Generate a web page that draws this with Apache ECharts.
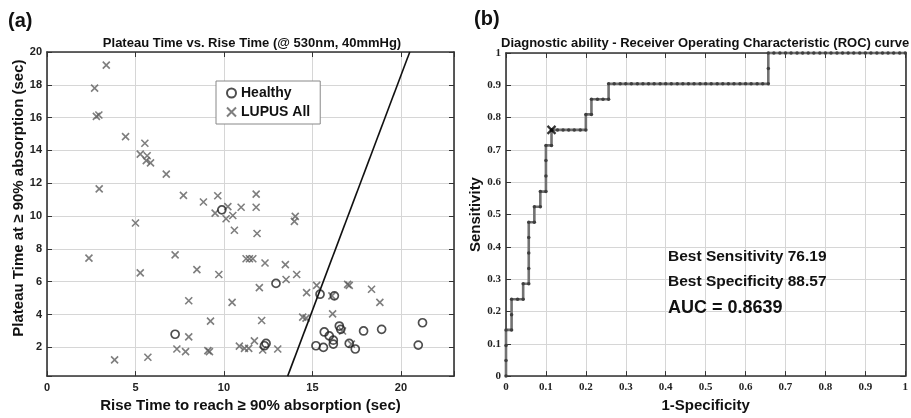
<!DOCTYPE html>
<html><head><meta charset="utf-8">
<script src="https://cdn.jsdelivr.net/npm/echarts@6/dist/echarts.min.js"></script>
<style>html,body{margin:0;padding:0;background:#fff}#c{width:911px;height:418px}</style>
</head><body><div id="c"></div>
<script>
// ---- Panel (a): scatter data ----
const healthyX = [9.88, 7.24, 12.94, 15.43, 16.24, 15.67, 15.95, 16.52, 16.60, 17.89, 18.91, 21.22, 16.18, 16.18, 15.20, 15.62, 17.08, 17.42, 20.98, 12.38, 12.29];
const healthyY = [10.38, 2.80, 5.90, 5.24, 5.14, 2.94, 2.70, 3.30, 3.10, 3.00, 3.10, 3.50, 2.44, 2.20, 2.10, 2.00, 2.24, 1.90, 2.14, 2.24, 2.10];
const lupusX = [3.35, 2.69, 2.79, 2.93, 4.44, 5.53, 5.27, 5.66, 5.61, 5.85, 6.74, 2.95, 7.71, 8.84, 9.65, 9.50, 10.22, 10.12, 10.50, 10.97,
  10.59, 5.00, 2.37, 7.24, 5.27, 8.47, 9.71, 8.01, 10.46, 9.24, 8.01, 7.34, 7.83, 9.09, 9.18, 3.82, 5.70, 10.87, 11.16, 11.40,
  11.82, 11.82, 11.87, 14.03, 13.98, 11.25, 11.44, 11.63, 12.32, 13.47, 14.11, 13.51, 12.00, 15.24, 14.67, 16.10, 16.99, 17.08, 18.34, 18.81,
  16.14, 14.45, 14.64, 12.13, 16.70, 17.20, 12.19, 11.72, 13.04];
const lupusY = [19.20, 17.80, 16.08, 16.16, 14.84, 14.44, 13.78, 13.68, 13.38, 13.24, 12.56, 11.66, 11.26, 10.86, 11.24, 10.18, 10.58, 9.84, 10.04, 10.54,
  9.14, 9.58, 7.44, 7.64, 6.54, 6.74, 6.44, 4.84, 4.74, 3.60, 2.64, 1.90, 1.74, 1.80, 1.74, 1.24, 1.40, 2.08, 1.94, 1.94,
  11.34, 10.54, 8.94, 9.98, 9.68, 7.40, 7.40, 7.40, 7.14, 7.04, 6.44, 6.14, 5.64, 5.78, 5.34, 5.14, 5.84, 5.78, 5.54, 4.74,
  4.04, 3.84, 3.78, 3.64, 3.00, 2.20, 1.84, 2.40, 1.90];
const thresholdX = [13.6, 20.5];
const thresholdY = [0.25, 20];
const xTicksA = [0, 5, 10, 15, 20];

// ---- Panel (b): ROC data ----
const rocCurve = [
  [0,0],[0,0.048],[0,0.095],[0,0.143],
  [0.014,0.143],[0.014,0.190],[0.014,0.238],
  [0.029,0.238],[0.043,0.238],[0.043,0.286],
  [0.057,0.286],[0.057,0.333],[0.057,0.381],[0.057,0.429],[0.057,0.476],
  [0.071,0.476],[0.071,0.524],
  [0.086,0.524],[0.086,0.571],
  [0.100,0.571],[0.100,0.619],[0.100,0.667],[0.100,0.714],
  [0.114,0.714],[0.114,0.762],
  [0.129,0.762],[0.143,0.762],[0.157,0.762],[0.171,0.762],[0.186,0.762],[0.200,0.762],[0.200,0.810],
  [0.214,0.810],[0.214,0.857],
  [0.229,0.857],[0.243,0.857],[0.257,0.857],[0.257,0.905],
  [0.271,0.905],[0.286,0.905],[0.300,0.905],[0.314,0.905],[0.329,0.905],[0.343,0.905],[0.357,0.905],[0.371,0.905],
  [0.386,0.905],[0.400,0.905],[0.414,0.905],[0.429,0.905],[0.443,0.905],[0.457,0.905],[0.471,0.905],[0.486,0.905],
  [0.500,0.905],[0.514,0.905],[0.529,0.905],[0.543,0.905],[0.557,0.905],[0.571,0.905],[0.586,0.905],[0.600,0.905],
  [0.614,0.905],[0.629,0.905],[0.643,0.905],[0.657,0.905],[0.657,0.952],[0.657,1],
  [0.671,1],[0.686,1],[0.700,1],[0.714,1],[0.729,1],[0.743,1],[0.757,1],[0.771,1],[0.786,1],[0.800,1],
  [0.814,1],[0.829,1],[0.843,1],[0.857,1],[0.871,1],[0.886,1],[0.900,1],[0.914,1],[0.929,1],[0.943,1],
  [0.957,1],[0.971,1],[0.986,1],[1,1]
];
const bestPoint = [0.114, 0.762];
const bestSensitivity = '76.19';
const bestSpecificity = '88.57';
const aucValue = '0.8639';

const SANS = '"Liberation Sans", Arial, sans-serif';
const SERIF = '"Liberation Serif", "Times New Roman", serif';
const CROSS = 'path://M0,0L10,10M10,0L0,10';
const zip = (a, b) => a.map((v, i) => [v, b[i]]);

const frame = { show: true, onZero: false, lineStyle: { color: '#333', width: 1.6 } };
const tickIn = { show: true, inside: true, length: 5, lineStyle: { color: '#333', width: 1 } };
const grid = { show: true, lineStyle: { color: '#d6d6d6', width: 1 } };
const nameStyle = { fontFamily: SANS, fontWeight: 'bold', fontSize: 15, color: '#111' };

const chart = echarts.init(document.getElementById('c'), null, { renderer: 'canvas' });
chart.setOption({
  animation: false,
  backgroundColor: '#fff',
  grid: [
    { left: 47, top: 52, width: 407, height: 330, show: false },
    { left: 506, top: 53, width: 402, height: 328, show: false }
  ],
  xAxis: [
    { gridIndex: 0, type: 'value', min: 0, max: 23, interval: 5, position: 'bottom',
      axisLine: frame, axisTick: tickIn, splitLine: grid,
      axisLabel: { margin: 6, color: '#222', fontFamily: SANS, fontWeight: 'bold', fontSize: 11,
        formatter: v => xTicksA.includes(v) ? String(v) : '' },
      name: 'Rise Time to reach \u2265 90% absorption (sec)', nameLocation: 'middle', nameGap: 20,
      nameTextStyle: nameStyle },
    { gridIndex: 0, type: 'value', min: 0, max: 23, interval: 5, position: 'top',
      axisLine: frame, axisTick: tickIn, splitLine: { show: false }, axisLabel: { show: false } },
    { gridIndex: 1, type: 'value', min: 0, max: 1, interval: 0.1, position: 'bottom',
      axisLine: frame, axisTick: tickIn, splitLine: grid,
      axisLabel: { margin: 6, color: '#222', fontFamily: SERIF, fontWeight: 'bold', fontSize: 11 },
      name: '1-Specificity', nameLocation: 'middle', nameGap: 21,
      nameTextStyle: nameStyle },
    { gridIndex: 1, type: 'value', min: 0, max: 1, interval: 0.1, position: 'top',
      axisLine: frame, axisTick: tickIn, splitLine: { show: false }, axisLabel: { show: false } }
  ],
  yAxis: [
    { gridIndex: 0, type: 'value', min: 0.25, max: 20, splitNumber: 10, position: 'left',
      axisLine: frame, axisTick: tickIn, splitLine: grid,
      axisLabel: { margin: 5, color: '#222', fontFamily: SANS, fontWeight: 'bold', fontSize: 11,
        formatter: v => (v >= 1 && v % 2 === 0) ? String(v) : '' },
      name: 'Plateau Time at \u2265 90% absorption (sec)', nameLocation: 'middle', nameGap: 20,
      nameTextStyle: Object.assign({}, nameStyle, { padding: [0, 0, 0, 32] }) },
    { gridIndex: 0, type: 'value', min: 0.25, max: 20, splitNumber: 10, position: 'right',
      axisLine: frame, axisTick: tickIn, splitLine: { show: false }, axisLabel: { show: false } },
    { gridIndex: 1, type: 'value', min: 0, max: 1, interval: 0.1, position: 'left',
      axisLine: frame, axisTick: tickIn, splitLine: grid,
      axisLabel: { margin: 5, color: '#222', fontFamily: SERIF, fontWeight: 'bold', fontSize: 11 },
      name: 'Sensitivity', nameLocation: 'middle', nameGap: 22,
      nameTextStyle: nameStyle },
    { gridIndex: 1, type: 'value', min: 0, max: 1, interval: 0.1, position: 'right',
      axisLine: frame, axisTick: tickIn, splitLine: { show: false }, axisLabel: { show: false } }
  ],
  legend: {
    data: ['Healthy', 'LUPUS All'], orient: 'vertical', left: 216, top: 81,
    padding: [5, 10, 5, 10], itemGap: 5, itemWidth: 9, itemHeight: 9,
    borderColor: '#888', borderWidth: 1, backgroundColor: '#fff',
    textStyle: { fontFamily: SANS, fontWeight: 'bold', fontSize: 14, color: '#111' }
  },
  graphic: [
    { type: 'text', z: 100, left: 8, top: 11, style: { text: '(a)', font: 'bold 20px ' + SANS, fill: '#111' } },
    { type: 'text', z: 100, left: 474, top: 9, style: { text: '(b)', font: 'bold 20px ' + SANS, fill: '#111' } },
    { type: 'text', z: 100, x: 252, y: 43, style: { text: 'Plateau Time vs. Rise Time (@ 530nm, 40mmHg)', font: 'bold 13px ' + SANS, fill: '#111', align: 'center', verticalAlign: 'middle' } },
    { type: 'text', z: 100, x: 501, y: 43, style: { text: 'Diagnostic ability - Receiver Operating Characteristic (ROC) curve', font: 'bold 13px ' + SANS, fill: '#111', align: 'left', verticalAlign: 'middle' } },
    { type: 'text', z: 100, x: 668, y: 257, style: { text: 'Best Sensitivity ' + bestSensitivity, font: 'bold 15.5px ' + SANS, fill: '#111', verticalAlign: 'middle' } },
    { type: 'text', z: 100, x: 668, y: 282, style: { text: 'Best Specificity ' + bestSpecificity, font: 'bold 15.5px ' + SANS, fill: '#111', verticalAlign: 'middle' } },
    { type: 'text', z: 100, x: 668, y: 308, style: { text: 'AUC = ' + aucValue, font: 'bold 18px ' + SANS, fill: '#111', verticalAlign: 'middle' } }
  ],
  series: [
    { name: 'LUPUS All', type: 'scatter', xAxisIndex: 0, yAxisIndex: 0, data: zip(lupusX, lupusY),
      symbol: CROSS, symbolSize: 7, itemStyle: { color: '#5e5e5e', borderColor: '#5e5e5e', borderWidth: 1.6 } },
    { name: 'Healthy', type: 'scatter', xAxisIndex: 0, yAxisIndex: 0, data: zip(healthyX, healthyY),
      symbol: 'circle', symbolSize: 8, itemStyle: { color: 'rgba(255,255,255,0)', borderColor: '#222', borderWidth: 1.7 } },
    { name: 'threshold', type: 'line', xAxisIndex: 0, yAxisIndex: 0, data: zip(thresholdX, thresholdY),
      symbol: 'none', lineStyle: { color: '#111', width: 1.6 }, z: 3 },
    { name: 'ROC', type: 'line', xAxisIndex: 2, yAxisIndex: 2, data: rocCurve, clip: false,
      symbol: 'circle', symbolSize: 3.5, showSymbol: true, showAllSymbol: true,
      lineStyle: { color: '#727272', width: 2.6 }, itemStyle: { color: '#3e3e3e' } },
    { name: 'best', type: 'scatter', xAxisIndex: 2, yAxisIndex: 2, data: [bestPoint],
      symbol: CROSS, symbolSize: 8, itemStyle: { color: '#000', borderColor: '#000', borderWidth: 2.2 }, z: 5 }
  ]
});
</script>
</body></html>
